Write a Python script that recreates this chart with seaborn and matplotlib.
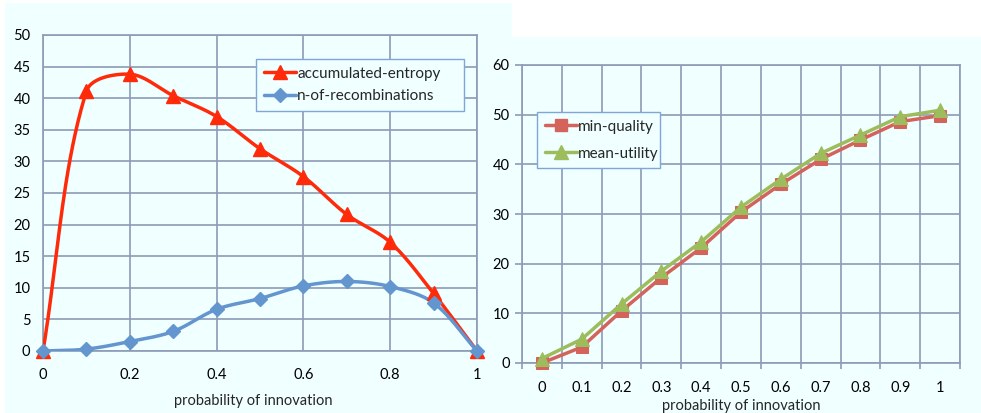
import numpy as np
import pandas as pd
import matplotlib
matplotlib.use("Agg")
import matplotlib.pyplot as plt
from matplotlib.patches import Rectangle
import seaborn as sns

# ---- data ----
innovation = [0, 0.1, 0.2, 0.3, 0.4, 0.5, 0.6, 0.7, 0.8, 0.9, 1]
accumulated_entropy = [0, 41.1, 43.8, 40.4, 37.1, 32.0, 27.6, 21.6, 17.2, 9.1, 0]
n_of_recombinations = [0, 0.3, 1.5, 3.1, 6.6, 8.3, 10.3, 11.0, 10.2, 7.6, 0]

categories = ["0", "0.1", "0.2", "0.3", "0.4", "0.5", "0.6", "0.7", "0.8", "0.9", "1"]
min_quality = [0, 3.2, 10.5, 17.2, 23.2, 30.4, 36.0, 41.0, 44.9, 48.6, 49.8]
mean_utility = [0.9, 4.8, 11.9, 18.5, 24.4, 31.4, 37.0, 42.2, 45.9, 49.6, 50.9]

# ---- style ----
sns.set_theme(style="white")
plt.rcParams["font.family"] = ["Lato", "DejaVu Sans"]

BG = "#F0FFFF"
GRID = "#8D9BB6"
RED = "#FF2A0A"
BLUE = "#6395CE"
ROSE = "#D4635C"
GREEN = "#9DBD5C"
LEG_EDGE = "#7FA7D6"
FS = 10.5
LW = 2.5

W, H = 981, 413
fig = plt.figure(figsize=(W / 100, H / 100), dpi=100, facecolor="white")

# light panel backgrounds, kept behind the axes
fig.patches.append(Rectangle((5 / W, 0), (512 - 5) / W, 1 - 3 / H,
                             transform=fig.transFigure, facecolor=BG,
                             edgecolor="none", zorder=-10))
fig.patches.append(Rectangle((490 / W, 0), (W - 490) / W, 1 - 37 / H,
                             transform=fig.transFigure, facecolor=BG,
                             edgecolor="none", zorder=-10))


def ax_rect(x0, x1, ytop, ybot):
    return [x0 / W, 1 - ybot / H, (x1 - x0) / W, (ybot - ytop) / H]


def smooth(ax, xs, ys, n=40):
    """Bezier smoothing through every point, handles scaled by chord length
    measured in display space so short segments do not overshoot."""
    data = np.column_stack([xs, ys]).astype(float)
    p = ax.transData.transform(data)
    out = []
    for i in range(len(p) - 1):
        p0 = p[i - 1] if i > 0 else p[i]
        p1, p2 = p[i], p[i + 1]
        p3 = p[i + 2] if i + 2 < len(p) else p[i + 1]
        d0 = np.linalg.norm(p1 - p0)
        d1 = np.linalg.norm(p2 - p1)
        d2 = np.linalg.norm(p3 - p2)
        f1 = d1 / (d0 + d1) / 3 if d0 + d1 > 0 else 0
        f2 = d1 / (d1 + d2) / 3 if d1 + d2 > 0 else 0
        c1 = p1 + (p2 - p0) * f1
        c2 = p2 - (p3 - p1) * f2
        t = np.linspace(0, 1, n, endpoint=(i == len(p) - 2))[:, None]
        seg = ((1 - t) ** 3) * p1 + 3 * ((1 - t) ** 2) * t * c1 \
            + 3 * (1 - t) * t ** 2 * c2 + t ** 3 * p2
        out.append(seg)
    s = ax.transData.inverted().transform(np.vstack(out))
    return s[:, 0], s[:, 1]


def style_axes(ax):
    ax.set_facecolor(BG)
    for sp in ax.spines.values():
        sp.set_color(GRID)
        sp.set_linewidth(1.2)
    ax.tick_params(labelsize=FS, colors="black")


def style_legend(leg):
    fr = leg.get_frame()
    fr.set_facecolor(BG)
    fr.set_edgecolor(LEG_EDGE)
    fr.set_linewidth(1.0)
    fr.set_alpha(1)


# ---- left panel ----
ax1 = fig.add_axes(ax_rect(43, 477, 35, 351))
style_axes(ax1)
ax1.set_xlim(0, 1)
ax1.set_ylim(0, 50)
left_series = [
    ("accumulated-entropy", accumulated_entropy, RED, "^", 9.5),
    ("n-of-recombinations", n_of_recombinations, BLUE, "D", 7),
]
for label, vals, col, mk, ms in left_series:
    sx, sy = smooth(ax1, innovation, vals)
    sns.lineplot(x=sx, y=sy, ax=ax1, color=col, linewidth=LW, sort=False,
                 estimator=None, legend=False, zorder=3)
    ax1.plot(innovation, vals, linestyle="none", marker=mk, markersize=ms,
             color=col, markeredgecolor=col, clip_on=False, zorder=4)

ax1.set_xlim(0, 1)
ax1.set_ylim(0, 50)
ax1.set_xticks(np.arange(0, 1.01, 0.2))
ax1.set_xticklabels(["0", "0.2", "0.4", "0.6", "0.8", "1"])
ax1.set_yticks(np.arange(0, 51, 5))
ax1.grid(True, color=GRID, linewidth=1.2)
ax1.set_axisbelow(True)
ax1.tick_params(axis="x", length=0, pad=12)
ax1.tick_params(axis="y", length=0, pad=9)

h1 = [plt.Line2D([], [], color=c, lw=LW, marker=m, markersize=s)
      for _, _, c, m, s in left_series]
leg1 = ax1.legend(h1, [s[0] for s in left_series], loc="upper left",
                  bbox_to_anchor=(0.491, 0.924 - 0.155, 0.479, 0.155),
                  mode="expand", borderaxespad=0,
                  fontsize=FS + 0.5, frameon=True, fancybox=False,
                  handlelength=2.1, handletextpad=0.1, labelspacing=0.55,
                  borderpad=0.5)
style_legend(leg1)
ax1.set_xlabel("probability of innovation", fontsize=FS)
ax1.xaxis.set_label_coords(0.484, -0.135)
ax1.set_ylabel("")

# ---- right panel ----
ax2 = fig.add_axes(ax_rect(522, 960, 65, 363))
style_axes(ax2)
df = pd.DataFrame({"pos": np.arange(len(categories)),
                   "min-quality": min_quality,
                   "mean-utility": mean_utility})
right_series = [("min-quality", ROSE, "s", 8.5), ("mean-utility", GREEN, "^", 10)]
for name, col, mk, ms in right_series:
    sns.lineplot(data=df, x="pos", y=name, ax=ax2, color=col, linewidth=LW,
                 marker=mk, markersize=ms, markeredgecolor=col,
                 estimator=None, legend=False, clip_on=False, zorder=3)
ax2.set_xlim(-0.5, len(categories) - 0.5)
ax2.set_ylim(0, 60)
ax2.set_xticks(df["pos"])
ax2.set_xticklabels(categories)
ax2.set_xticks(np.arange(-0.5, len(categories), 1), minor=True)
ax2.set_yticks(np.arange(0, 61, 10))
ax2.grid(False)
ax2.grid(True, which="minor", axis="x", color=GRID, linewidth=1.2)
ax2.grid(True, which="major", axis="y", color=GRID, linewidth=1.2)
ax2.set_axisbelow(True)
ax2.tick_params(axis="x", which="major", length=0, pad=13)
ax2.tick_params(axis="x", which="minor", length=4, width=1.2, color=GRID,
                bottom=True)
ax2.tick_params(axis="y", which="major", length=5, width=1.2, color=GRID,
                left=True, pad=4)
h2 = [plt.Line2D([], [], color=c, lw=LW, marker=m, markersize=s)
      for _, c, m, s in right_series]
leg2 = ax2.legend(h2, [s[0] for s in right_series], loc="upper left",
                  bbox_to_anchor=(0.034, 0.842 - 0.19, 0.281, 0.19),
                  mode="expand", borderaxespad=0,
                  fontsize=FS + 0.5, frameon=True, fancybox=False,
                  handlelength=2.1, handletextpad=0.1, labelspacing=0.85,
                  borderpad=0.5)
style_legend(leg2)
ax2.set_xlabel("probability of innovation", fontsize=FS, labelpad=3)
ax2.set_ylabel("")

fig.savefig("out.png", dpi=100, facecolor="white")
